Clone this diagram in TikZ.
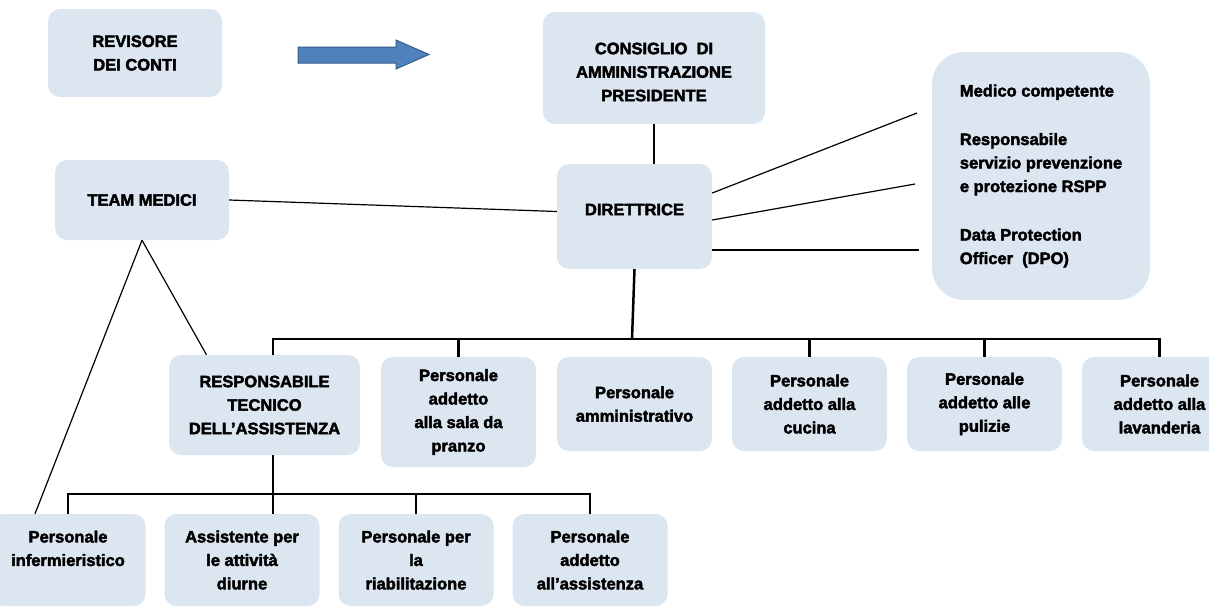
\documentclass[tikz,border=0pt]{standalone}
\usepackage{fontspec}
\setmainfont{Liberation Sans}[BoldFeatures={FakeBold=2.5}]
\definecolor{boxblue}{RGB}{220,230,241}
\definecolor{arrowblue}{RGB}{79,129,189}
\definecolor{arrowedge}{RGB}{56,93,138}

\begin{document}
\begin{tikzpicture}[x=1pt,y=-1pt,node distance=175pt,
    box/.style={fill=boxblue,rounded corners=12pt,minimum width=155pt,minimum height=94pt,inner sep=4pt,align=center,font=\bfseries\fontsize{16.5}{23.5}\selectfont},
    link/.style={line width=1.2pt},
    bus/.style={line width=2.5pt}]
            \useasboundingbox (0,0) rectangle (1209,606);
            \clip (0,0) rectangle (1209,606);

            % top
            \node[box,minimum width=174pt,minimum height=88pt] (rev) at (135,53) {REVISORE\\DEI CONTI};
            \node[box,minimum width=222pt,minimum height=112pt] (cons) at (654,68) {\raisebox{-4pt}[\height][\depth]{CONSIGLIO~~DI}\\\raisebox{-4pt}[\height][\depth]{AMMINISTRAZIONE}\\\raisebox{-4pt}[\height][\depth]{PRESIDENTE}};
            \node[box,minimum width=174pt,minimum height=80pt] (team) at (142,200) {TEAM MEDICI};
            \node[box,minimum height=105pt] (dir) at (634.5,216.5) {\raisebox{7pt}[\height][\depth]{DIRETTRICE}};
            \node[box,minimum width=218pt,minimum height=248pt,rounded corners=32pt,align=left] (info) at (1041,176) {Medico competente\\[25pt]Responsabile\\servizio prevenzione\\e protezione RSPP\\[25pt]Data Protection\\Officer~~(DPO)};

            \draw[fill=arrowblue,draw=arrowedge,line width=1pt] (298,47) -- (396,47) -- (396,40) -- (429,54.5) -- (396,69) -- (396,63) -- (298,63) -- cycle;

            % second row
            \node[box,minimum width=191pt,minimum height=100pt] (resp) at (264.5,405) {RESPONSABILE\\TECNICO\\DELL’ASSISTENZA};
            \node[box,minimum height=110pt] (sala) at (458.5,412) {Personale\\addetto\\alla sala da\\pranzo};
            \node[box] (amm) at (634.5,404) {Personale\\amministrativo};
            \node[box] (cucina) [right of = amm] {Personale\\addetto alla\\cucina};
            \node[box] (pulizie) [right of = cucina] {Personale\\addetto alle\\pulizie};
            \node[box] (lav) [right of = pulizie] {Personale\\addetto alla\\lavanderia};

            % third row
            \node[box,minimum height=92pt] (inf) at (68,560) {Personale\\infermieristico\\\mbox{}};
            \node[box,minimum height=92pt] (assist) [right of = inf, xshift = -1] {Assistente per\\le attività\\diurne};
            \node[box,minimum height=92pt] (riab) [right of = assist, xshift = -1] {Personale per\\la\\riabilitazione};
            \node[box,minimum height=92pt] (adda) [right of = riab, xshift = -1] {Personale\\addetto\\all’assistenza};

            \coordinate (m1) at (917,113);
            \coordinate (m2) at (915,184);
            \coordinate (m3) at (919,250);
            \coordinate (bus1) at (632,339);
            \coordinate (bus2) at (273,494);

            \path[link]
                (cons.south) edge (cons.south |- dir.north)
                (team.east) edge ([yshift=5pt]dir.west)
                ([yshift=23.5pt]dir.east) edge (m1)
                ([yshift=-3.5pt]dir.east) edge (m2)
                ([yshift=-33.5pt]dir.east) edge (m3)
                (team.south) edge ([xshift=-58pt]resp.north)
                (team.south) edge ([xshift=-33pt]inf.north)
                ;

            \draw[bus] (dir.south) -- (bus1);
            \draw[bus] ([xshift=8.5pt]resp.north) |- (bus1) -| (lav.north);
            \foreach \n in {sala,cucina,pulizie}
                \draw[bus] (\n.north) -- (\n.north |- bus1);
            \draw[bus] ([xshift=8.5pt]resp.south) -- ([xshift=8.5pt]resp.south |- assist.north);
            \draw[bus] (inf.north) |- (bus2) -| (adda.north);
            \draw[bus] (riab.north) -- (riab.north |- bus2);
        \end{tikzpicture}
\end{document}
